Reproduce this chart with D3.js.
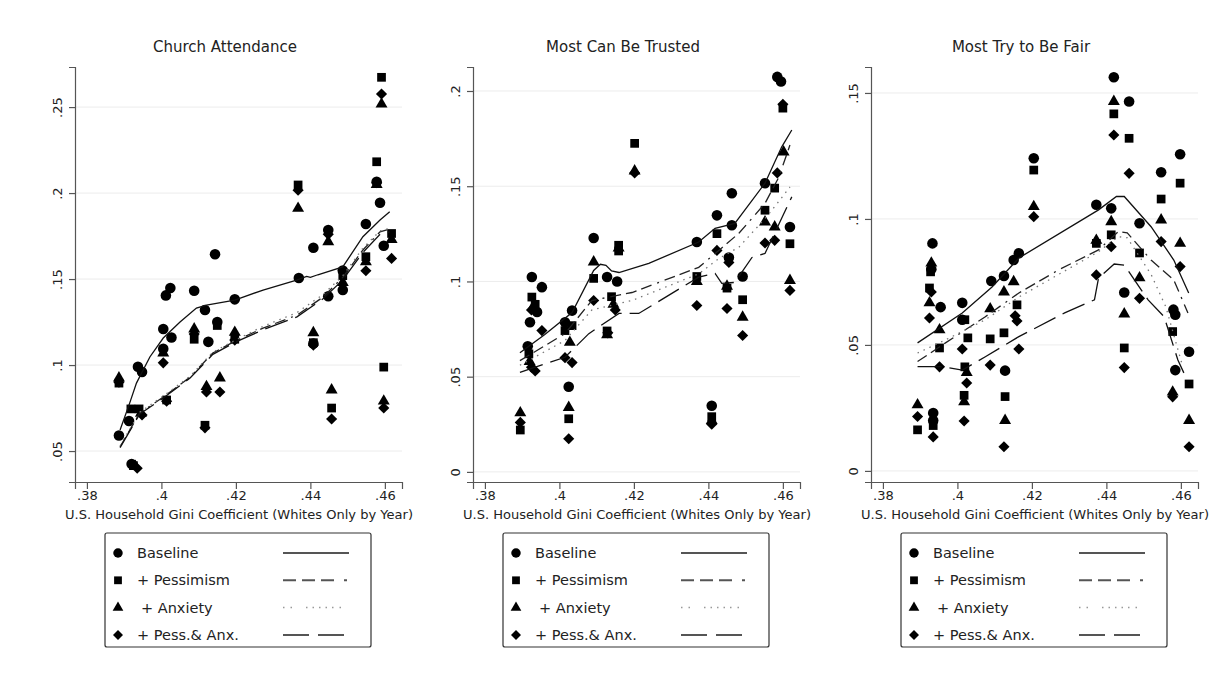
<!DOCTYPE html>
<html lang="en">
<head>
  <meta charset="UTF-8" />
  <title>Gini and social trust, three panels</title>
  <script src="https://d3js.org/d3.v7.min.js"></script>
  <style>
    body { margin: 0; background: white; }
    text { font-family: "DejaVu Sans", sans-serif; fill: #222; }
  </style>
</head>
<body>
<svg id="chart" width="1225" height="677"></svg>
<script>
// ---- data ----
const xTicks = [0.38, 0.40, 0.42, 0.44, 0.46];
const churchTicks = [0.05, 0.10, 0.15, 0.20, 0.25];
const trustTicks = [0, 0.05, 0.10, 0.15, 0.20];
const fairTicks = [0, 0.05, 0.10, 0.15];
const seriesNames = ["Baseline", "+ Pessimism", " + Anxiety", "+ Pess.& Anx."];

// Church Attendance
const churchBaseline = [[.3886,.059],[.3913,.0675],[.3920,.0425],[.3937,.099],[.3948,.096],[.4005,.121],[.4005,.1095],[.4012,.1405],[.4024,.1448],[.4027,.116],[.4088,.1432],[.4117,.132],[.4126,.1135],[.4144,.1644],[.4150,.125],[.4197,.1382],[.4369,.1506],[.4408,.1682],[.4408,.1125],[.4448,.1785],[.4448,.140],[.4487,.155],[.4487,.1436],[.4549,.182],[.4578,.2066],[.4587,.1944],[.4597,.1694]];
const churchPess = [[.3886,.0895],[.3925,.0415],[.3918,.0745],[.3940,.0745],[.4014,.0797],[.4088,.115],[.4117,.065],[.4150,.123],[.4197,.115],[.4367,.2047],[.4408,.113],[.4457,.075],[.4487,.152],[.4549,.163],[.4578,.2182],[.4591,.2673],[.4597,.0988],[.4618,.1765]];
const churchAnx = [[.3886,.0925],[.3930,.041],[.3945,.072],[.4005,.107],[.4088,.121],[.4121,.0875],[.4157,.0925],[.4197,.119],[.4367,.1911],[.4408,.1188],[.4448,.1717],[.4457,.0855],[.4487,.148],[.4549,.160],[.4578,.205],[.4591,.2517],[.4597,.079],[.4618,.173]];
const churchBoth = [[.3886,.090],[.3935,.040],[.3948,.071],[.4005,.1013],[.4014,.079],[.4088,.118],[.4117,.0635],[.4121,.0843],[.4157,.0843],[.4197,.1145],[.4367,.2017],[.4408,.1116],[.4448,.176],[.4457,.0686],[.4549,.1548],[.4578,.206],[.4591,.2576],[.4597,.075],[.4618,.162]];
const churchBaseFit = [[.3889,.0622],[.3915,.078],[.3933,.0895],[.3969,.1047],[.4005,.1157],[.4050,.125],[.4094,.1331],[.4121,.1349],[.4197,.1378],[.4273,.1436],[.4363,.1494],[.4390,.1515],[.4400,.151],[.4420,.1525],[.4487,.1571],[.4541,.1746],[.4587,.1843],[.4613,.1891]];
const churchPessFit = [[.3889,.0525],[.3942,.0721],[.4005,.0814],[.4077,.093],[.4138,.107],[.4203,.1145],[.4273,.1215],[.4364,.129],[.4434,.1395],[.4487,.151],[.4541,.1669],[.4587,.1775],[.4613,.179]];
const churchAnxFit = [[.3889,.053],[.3942,.0726],[.4005,.082],[.4077,.0935],[.4138,.1075],[.4203,.115],[.4273,.1225],[.4364,.1305],[.4434,.141],[.4487,.152],[.4541,.168],[.4587,.178],[.4613,.1795]];
const churchBothFit = [[.3889,.052],[.3942,.0716],[.4005,.0808],[.4077,.0925],[.4138,.1062],[.4203,.1138],[.4273,.1205],[.4364,.128],[.4434,.1385],[.4487,.1495],[.4541,.1655],[.4587,.176],[.4613,.1775]];

// Most Can Be Trusted
const trustBaseline = [[.3926,.1023],[.3953,.097],[.3921,.0786],[.3940,.084],[.3915,.066],[.4034,.0847],[.4015,.0786],[.4025,.0447],[.4092,.1228],[.4128,.1023],[.4155,.100],[.4369,.1207],[.4409,.0347],[.4423,.1347],[.4455,.1126],[.4463,.1463],[.4463,.1295],[.4492,.1026],[.4552,.1516],[.4585,.2074],[.4595,.205],[.4619,.1286]];
const trustPess = [[.3895,.022],[.3926,.0918],[.3935,.088],[.3918,.062],[.4015,.0742],[.4034,.0768],[.4025,.0279],[.4092,.1016],[.4159,.119],[.4159,.116],[.4140,.092],[.4128,.074],[.4202,.1725],[.4369,.1026],[.4409,.029],[.4423,.1251],[.4450,.0965],[.4492,.0904],[.4552,.1374],[.4578,.149],[.4600,.191],[.4619,.1198]];
const trustAnx = [[.3895,.031],[.3930,.087],[.3920,.058],[.4028,.068],[.4025,.0338],[.4092,.1102],[.4159,.1175],[.4145,.088],[.4128,.072],[.4202,.158],[.4369,.100],[.4409,.027],[.4450,.0975],[.4492,.0812],[.4552,.1312],[.4578,.1286],[.4602,.168],[.4619,.1005]];
const trustBoth = [[.3895,.026],[.3925,.085],[.3953,.0742],[.3925,.055],[.3935,.053],[.4015,.060],[.4034,.0574],[.4025,.0174],[.4092,.090],[.4150,.085],[.4130,.073],[.4202,.157],[.4369,.0874],[.4409,.025],[.4423,.1163],[.4455,.110],[.4450,.0858],[.4492,.0716],[.4552,.1202],[.4578,.1216],[.4585,.157],[.4600,.193],[.4619,.0953]];
const trustBaseFit = [[.3894,.0626],[.3960,.072],[.4034,.0837],[.4092,.1058],[.4110,.109],[.4125,.1085],[.4140,.1055],[.4160,.1047],[.4240,.1095],[.4374,.1207],[.4418,.1279],[.4471,.1305],[.4552,.1516],[.4597,.1707],[.4624,.1795]];
const trustPessFit = [[.3894,.0584],[.4015,.0726],[.4087,.090],[.4195,.0942],[.4374,.1074],[.4428,.1163],[.4482,.1253],[.4552,.141],[.4589,.1547],[.4619,.1716]];
const trustAnxFit = [[.3894,.056],[.4015,.069],[.4087,.085],[.4150,.088],[.4195,.090],[.4374,.104],[.4428,.112],[.4482,.118],[.4552,.133],[.4589,.142],[.4619,.1496]];
const trustBothFit = [[.3894,.0523],[.4015,.0602],[.4079,.0726],[.4160,.0832],[.4213,.0832],[.4374,.1023],[.4418,.1042],[.4436,.099],[.4471,.0995],[.4517,.1126],[.4552,.1147],[.4624,.1444]];

// Most Try to Be Fair
const fairBaseline = [[.3933,.0903],[.3930,.080],[.3955,.065],[.3935,.023],[.3935,.020],[.4013,.0667],[.4013,.060],[.4091,.0754],[.4125,.0774],[.4128,.0398],[.4151,.0837],[.4165,.0864],[.4205,.1241],[.4373,.1056],[.4413,.1042],[.4420,.1562],[.4448,.0708],[.4461,.1466],[.4489,.0983],[.4547,.1185],[.4580,.064],[.4585,.062],[.4585,.040],[.4598,.1257],[.4622,.0473]];
const fairPess = [[.3893,.0163],[.3928,.079],[.3925,.0726],[.3952,.0488],[.3935,.018],[.4020,.060],[.4020,.0413],[.4028,.0528],[.4018,.030],[.4088,.0524],[.4125,.0548],[.4128,.0295],[.4160,.0659],[.4205,.1194],[.4373,.0903],[.4413,.0937],[.4420,.1417],[.4448,.0488],[.4461,.132],[.4489,.0865],[.4547,.1079],[.4578,.0553],[.4598,.1142],[.4622,.0345]];
const fairAnx = [[.3893,.0262],[.3930,.0825],[.3925,.0667],[.3952,.056],[.4025,.039],[.4018,.0274],[.4088,.0643],[.4125,.071],[.4128,.020],[.4151,.0751],[.4205,.1049],[.4373,.0915],[.4413,.0989],[.4420,.1466],[.4448,.0623],[.4489,.0766],[.4547,.0996],[.4578,.0313],[.4598,.0903],[.4622,.020]];
const fairBoth = [[.3893,.0216],[.3930,.071],[.3925,.0607],[.3952,.0413],[.3935,.0135],[.4013,.0484],[.4025,.0349],[.4018,.0198],[.4088,.042],[.4125,.0096],[.4155,.0616],[.4160,.0595],[.4165,.0484],[.4205,.1009],[.4373,.0778],[.4413,.089],[.4420,.1333],[.4448,.041],[.4461,.1181],[.4489,.0685],[.4547,.091],[.4578,.0294],[.4598,.0811],[.4622,.0096]];
const fairBaseFit = [[.3893,.0508],[.4013,.0627],[.4093,.073],[.4165,.0845],[.4379,.1036],[.4427,.1089],[.4448,.1089],[.4520,.0969],[.4581,.0837],[.4621,.0706]];
const fairPessFit = [[.3893,.0434],[.3968,.0508],[.4075,.0612],[.4165,.0706],[.4272,.0798],[.4379,.0877],[.4432,.095],[.4456,.0945],[.4520,.0837],[.4581,.0758],[.4619,.0627]];
const fairAnxFit = [[.3893,.0468],[.3968,.052],[.4075,.060],[.4165,.069],[.4272,.078],[.4379,.087],[.4432,.093],[.4456,.0925],[.4520,.078],[.4560,.065],[.4605,.0414]];
const fairBothFit = [[.3893,.0414],[.3960,.0414],[.4013,.040],[.4075,.0453],[.4165,.0533],[.4288,.0627],[.4368,.0679],[.4379,.0766],[.4421,.0821],[.4448,.0817],[.4512,.0679],[.4555,.0612],[.4592,.044],[.4608,.0389]];

// ---- layout ----
const svg = d3.select("#chart");
const plotW = 327, plotTop = 67, plotBottom = 482;

const panels = [
  { title: "Church Attendance", left: 75, yDomain: [0.032, 0.2733], ticks: churchTicks,
    points: [churchBaseline, churchPess, churchAnx, churchBoth],
    fits: [churchBaseFit, churchPessFit, churchAnxFit, churchBothFit] },
  { title: "Most Can Be Trusted", left: 473, yDomain: [-0.0053, 0.2126], ticks: trustTicks,
    points: [trustBaseline, trustPess, trustAnx, trustBoth],
    fits: [trustBaseFit, trustPessFit, trustAnxFit, trustBothFit] },
  { title: "Most Try to Be Fair", left: 871, yDomain: [-0.0044, 0.1603], ticks: fairTicks,
    points: [fairBaseline, fairPess, fairAnx, fairBoth],
    fits: [fairBaseFit, fairPessFit, fairAnxFit, fairBothFit] }
];

const fmt = d => String(+d.toFixed(2)).replace(/^0\./, ".").replace(/^-0\./, "-.");

// marker shapes: circle, square, triangle, diamond (rotated square)
const shapes = [
  { type: d3.symbolCircle, size: 88, rot: 0 },
  { type: d3.symbolSquare, size: 76, rot: 0 },
  { type: d3.symbolTriangle, size: 62, rot: 0 },
  { type: d3.symbolSquare, size: 62, rot: 45 }
];
const dashes = [null, "11,5,11,5,11,6,2,6", "1.5,5", "24,8"];
const legendDashes = [null, "13,6,13,6,13,10,3,10", "1.5,6,1.5,14,1.5,5,1.5,5,1.5,5,1.5,5", "26,9,26,9"];
const lineColors = ["#111", "#222", "#777", "#111"];

panels.forEach(p => {
  const x = d3.scaleLinear().domain([0.3768, 0.4646]).range([p.left, p.left + plotW]);
  const y = d3.scaleLinear().domain(p.yDomain).range([plotBottom, plotTop]);
  const g = svg.append("g");

  // gridlines
  g.selectAll(".grid").data(p.ticks).enter().append("line")
    .attr("x1", p.left).attr("x2", p.left + plotW)
    .attr("y1", d => y(d)).attr("y2", d => y(d))
    .attr("stroke", "#ececec").attr("stroke-width", 1);

  // x axis
  const xa = g.append("g").attr("transform", `translate(0,${plotBottom})`)
    .call(d3.axisBottom(x).tickValues(xTicks).tickFormat(fmt).tickSizeOuter(0).tickSize(7).tickPadding(2));
  xa.select(".domain").attr("stroke", "#555").attr("stroke-width", 1.2);
  xa.selectAll(".tick line").attr("stroke", "#555").attr("stroke-width", 1.2);
  xa.selectAll("text").style("font-size", "13px").attr("fill", "#222");

  // y axis
  const ya = g.append("g").attr("transform", `translate(${p.left},0)`)
    .call(d3.axisLeft(y).tickValues(p.ticks).tickFormat(fmt).tickSizeOuter(0).tickSize(6));
  ya.select(".domain").attr("stroke", "#555").attr("stroke-width", 1.2);
  ya.selectAll(".tick line").attr("stroke", "#555").attr("stroke-width", 1.2);
  ya.selectAll("text").style("font-size", "13px").attr("fill", "#222")
    .attr("text-anchor", "middle").attr("x", 0).attr("y", -13).attr("dy", 0)
    .attr("transform", "rotate(-90)");

  // title and axis label
  g.append("text").attr("x", p.left + 150).attr("y", 52).attr("text-anchor", "middle")
    .style("font-size", "15px").text(p.title);
  g.append("text").attr("x", p.left + 164).attr("y", 519).attr("text-anchor", "middle")
    .style("font-size", "11.5px").attr("textLength", 348).attr("lengthAdjust", "spacingAndGlyphs")
    .text("U.S. Household Gini Coefficient (Whites Only by Year)");

  // markers
  p.points.forEach((pts, i) => {
    const s = shapes[i];
    g.selectAll(null).data(pts).enter().append("path")
      .attr("d", d3.symbol().type(s.type).size(s.size))
      .attr("transform", d => `translate(${x(d[0])},${y(d[1])}) rotate(${s.rot})`)
      .attr("fill", "#000");
  });

  // smoothed fit lines
  const line = d3.line().x(d => x(d[0])).y(d => y(d[1]));
  p.fits.forEach((f, i) => {
    g.append("path").datum(f).attr("d", line)
      .attr("fill", "none").attr("stroke", lineColors[i]).attr("stroke-width", 1.3)
      .attr("stroke-dasharray", dashes[i]);
  });

  // legend
  const lx = p.left + 30, ly = 533;
  const lg = g.append("g");
  lg.append("rect").attr("x", lx).attr("y", ly).attr("width", 266).attr("height", 114)
    .attr("fill", "white").attr("stroke", "#333").attr("stroke-width", 1.2).attr("rx", 2);
  seriesNames.forEach((name, i) => {
    const cy = ly + 20 + i * 27.3;
    const s = shapes[i];
    lg.append("path").attr("d", d3.symbol().type(s.type).size(s.size * 0.8))
      .attr("transform", `translate(${lx + 13},${cy}) rotate(${s.rot})`).attr("fill", "#000");
    lg.append("text").attr("x", lx + 32 + (i === 2 ? 4 : 0)).attr("y", cy + 5)
      .style("font-size", "14.5px").text(name.trim());
    lg.append("line").attr("x1", lx + 178).attr("x2", lx + 244).attr("y1", cy).attr("y2", cy)
      .attr("stroke", i === 2 ? "#999" : "#555").attr("stroke-width", i === 2 ? 1.5 : 2)
      .attr("stroke-dasharray", legendDashes[i]);
  });
});
</script>
</body>
</html>
